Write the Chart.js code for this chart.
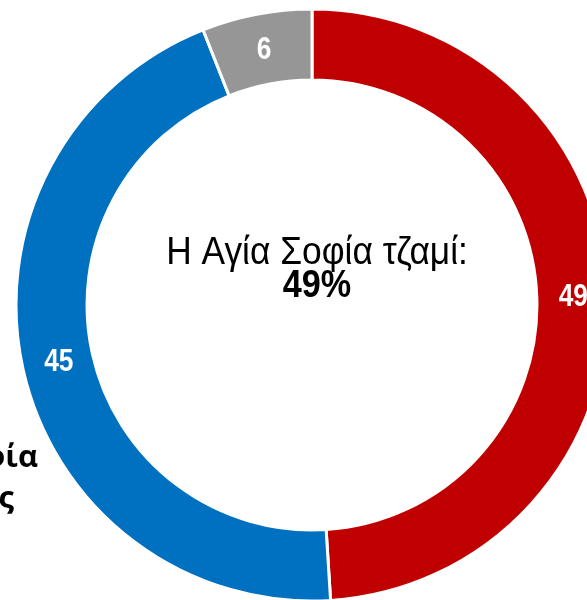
<!DOCTYPE html>
<html>
<head>
<meta charset="utf-8">
<script src="https://cdn.jsdelivr.net/npm/chart.js@4.4.1/dist/chart.umd.min.js"></script>
<style>
  html, body { margin: 0; padding: 0; background: #fff; overflow: hidden; }
  #wrap { position: absolute; left: 0; top: 0; width: 640px; height: 600px; }
</style>
</head>
<body>
<div id="wrap"><canvas id="chart" width="640" height="600"></canvas></div>
<script>
// --- data ---
const labels = ["Τζαμί", "Μουσείο", "ΔΓ/ΔΑ"];
const values = [49, 45, 6];
const colors = ["#C00000", "#0070C0", "#969696"];
const centerTitle = "Η Αγία Σοφία τζαμί:";
const centerValue = "49%";
const sideLabel = ["Η Αγία Σοφία", "μουσείο ή ναός"];

const SANS = "'Liberation Sans', Arial, sans-serif";

// no narrow font installed, so squeeze the regular one
function narrowText(ctx, text, x, y, sx) {
  ctx.save();
  ctx.translate(x, y);
  ctx.scale(sx, 1);
  ctx.fillText(text, 0, 0);
  ctx.restore();
}

// value labels in the middle of each ring segment
const valueLabels = {
  id: "valueLabels",
  afterDatasetsDraw(chart) {
    const ctx = chart.ctx;
    const meta = chart.getDatasetMeta(0);
    ctx.save();
    ctx.fillStyle = "#fff";
    ctx.font = "bold 31px " + SANS;
    ctx.textAlign = "center";
    ctx.textBaseline = "middle";
    meta.data.forEach((arc, i) => {
      const p = arc.tooltipPosition();
      narrowText(ctx, String(values[i]), p.x + 1, p.y + 1, 0.85);
    });
    ctx.restore();
  }
};

// center text + the cut-off side label
const textPlugin = {
  id: "textPlugin",
  afterDraw(chart) {
    const ctx = chart.ctx;
    ctx.save();
    ctx.fillStyle = "#000";
    ctx.textAlign = "center";
    ctx.textBaseline = "alphabetic";
    ctx.font = "38px " + SANS;
    narrowText(ctx, centerTitle, 317, 264, 0.93);
    ctx.font = "bold 38px " + SANS;
    narrowText(ctx, centerValue, 317, 297, 0.9);

    ctx.textAlign = "right";
    ctx.font = "bold 31px 'Open Sans', 'Noto Sans', sans-serif";
    ctx.fillText(sideLabel[0], 38, 467);
    ctx.fillText(sideLabel[1], 14, 508);
    ctx.restore();
  }
};

new Chart(document.getElementById("chart"), {
  type: "doughnut",
  data: {
    labels: labels,
    datasets: [{
      data: values,
      backgroundColor: colors,
      borderColor: "#fff",
      borderWidth: 3,
      hoverOffset: 0
    }]
  },
  options: {
    responsive: false,
    animation: false,
    radius: 296,
    cutout: "76%",
    layout: { padding: { left: 17, top: 10, right: 33, bottom: 0 } },
    plugins: {
      legend: { display: false },
      tooltip: { enabled: false }
    }
  },
  plugins: [valueLabels, textPlugin]
});
</script>
</body>
</html>
